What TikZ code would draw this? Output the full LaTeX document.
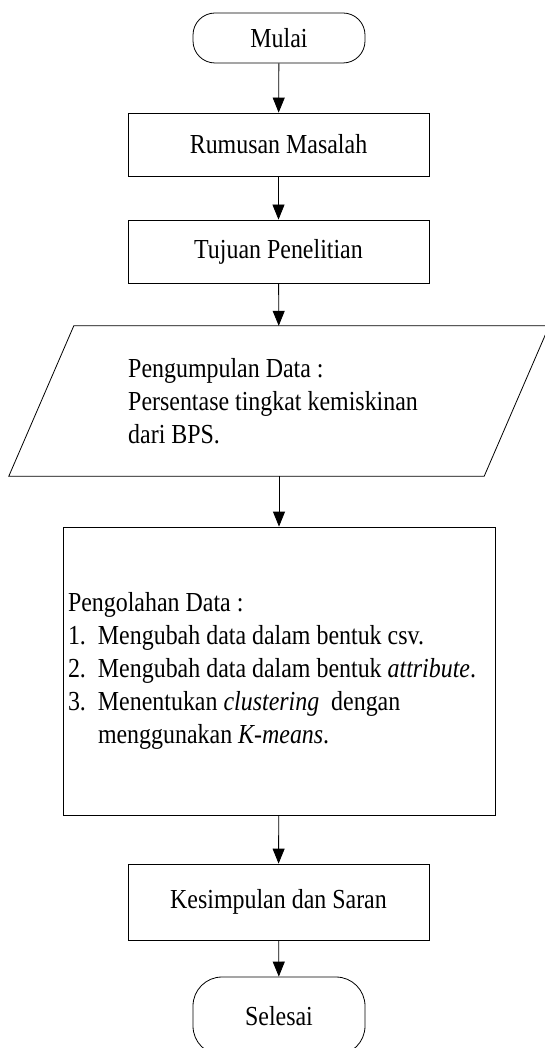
\documentclass[tikz,border=0pt]{standalone}
\usepackage{fontspec}
\setmainfont{Liberation Serif}[FakeStretch=0.87]
\usetikzlibrary{arrows.meta}
\begin{document}
\begin{tikzpicture}[x=1pt,y=-1pt,
  every node/.style={font=\fontsize{27.5pt}{33pt}\selectfont},
  box/.style={draw=black, line width=0.8pt, inner sep=0pt, minimum width=301pt, align=center},
  term/.style={box, minimum width=172pt},
  flow/.style={draw=black, line width=0.8pt, -{Triangle[length=15pt,width=12pt]}}
]
\useasboundingbox (0,0) rectangle (545,1048);
\clip (0,0) rectangle (545,1048);

\node[term, rounded corners=22pt, minimum height=50pt] (mulai) at (279,38) {Mulai};
\node[box, minimum height=63pt] (rumusan) at (278.5,144.5) {Rumusan Masalah};
\node[box, minimum height=63pt] (tujuan) at (278.5,251.5) {Tujuan Penelitian};

\node[inner sep=0pt, minimum width=475pt, minimum height=150pt] (data) at (279,401) {};
\draw[line width=0.8pt] ([xshift=-32.5pt]data.south west) -- ([xshift=32.5pt]data.north west)
  -- ([xshift=32.5pt]data.north east) -- ([xshift=-32.5pt]data.south east) -- cycle;
\node[anchor=base west, align=left, inner sep=0pt] (datatext) at (128,443)
  {Pengumpulan Data :\\Persentase tingkat kemiskinan\\dari BPS.};

\node[draw=black, line width=0.8pt, inner xsep=5pt, inner ysep=0pt, text width=422pt,
  minimum height=288pt, align=flush left] (proc) at (279,671)
  {Pengolahan Data :\\
   \makebox[30pt][l]{1.}Mengubah data dalam bentuk csv.\\
   \makebox[30pt][l]{2.}Mengubah data dalam bentuk \textit{attribute}.\\
   \makebox[30pt][l]{3.}Menentukan \textit{clustering}\ \ dengan\\
   \hspace*{30pt}menggunakan \textit{K-means}.};

\node[box, minimum height=76pt] (kes) at (278.5,902) {Kesimpulan dan Saran};
\node[term, rounded corners=29pt, minimum height=78pt] (selesai) at (279,1016) {Selesai};

\draw[flow] (mulai) -- (rumusan);
\draw[flow] (rumusan) -- (tujuan);
\draw[flow] (tujuan) -- (data);
\draw[flow] (data) -- (proc);
\draw[flow] (proc) -- (kes);
\draw[flow] (kes) -- (selesai);
\end{tikzpicture}
\end{document}
